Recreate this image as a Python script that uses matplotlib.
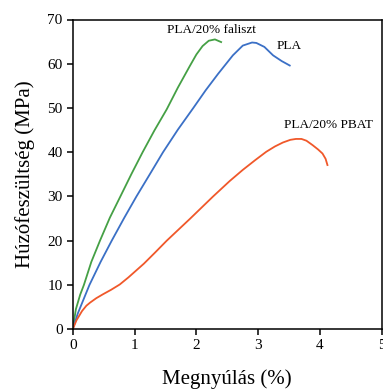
import matplotlib
matplotlib.use('Agg')
import matplotlib.pyplot as plt

plt.rcParams['font.family'] = 'Liberation Serif'

# PLA/20% faliszt
fal_x = [0, 0.05, 0.12, 0.18, 0.30, 0.44, 0.60, 0.77, 0.95, 1.13, 1.32, 1.52, 1.70, 1.89,
         2.00, 2.10, 2.20, 2.30, 2.40]
fal_y = [0, 4.5, 7.8, 10, 15.2, 20, 25.2, 30, 35.1, 40, 44.9, 49.7, 54.6, 59.4,
         62.1, 64.0, 65.2, 65.5, 64.9]

# PLA
pla_x = [0, 0.08, 0.27, 0.45, 0.63, 0.83, 1.03, 1.25, 1.46, 1.70, 1.95, 2.15, 2.35, 2.59,
         2.75, 2.90, 2.97, 3.10, 3.24, 3.38, 3.51]
pla_y = [0, 3.5, 10, 15.2, 20, 25.1, 30, 35.1, 40, 45.1, 50, 54, 57.7, 61.9,
         64.1, 64.8, 64.7, 63.8, 61.9, 60.6, 59.6]

# PLA/20% PBAT
pbat_x = [0, 0.06, 0.15, 0.22, 0.28, 0.38, 0.49, 0.62, 0.76, 0.90, 1.15, 1.33, 1.52, 1.90,
          2.27, 2.54, 2.75, 2.95, 3.13, 3.27, 3.40, 3.52, 3.61, 3.70, 3.78, 3.88, 3.97,
          4.04, 4.09, 4.12]
pbat_y = [0, 2, 4.1, 5.3, 6, 7, 7.9, 8.9, 10.1, 11.7, 14.8, 17.3, 20, 25,
          30, 33.5, 36, 38.2, 40.1, 41.3, 42.2, 42.8, 43.0, 43.0, 42.6, 41.6, 40.6,
          39.7, 38.5, 37.1]

fig = plt.figure(figsize=(3.83, 3.90), dpi=100)
ax = fig.add_axes([0.19, 0.156, 0.807, 0.794])

ax.plot(fal_x, fal_y, color='#45a045', lw=1.3)
ax.plot(pla_x, pla_y, color='#3b70c6', lw=1.3)
ax.plot(pbat_x, pbat_y, color='#f0582a', lw=1.3)

ax.text(1.52, 67.6, 'PLA/20% faliszt', fontsize=9.5, va='center')
ax.text(3.29, 64.1, 'PLA', fontsize=9.5, va='center')
ax.text(3.42, 46.2, 'PLA/20% PBAT', fontsize=9.5, va='center')

ax.set_xlim(0, 5)
ax.set_ylim(0, 70)
ax.set_xticks([0, 1, 2, 3, 4, 5])
ax.set_yticks(range(0, 71, 10))
ax.tick_params(direction='out', length=4.3, width=1.1, labelsize=11, pad=3)
for s in ax.spines.values():
    s.set_linewidth(1.1)

ax.set_xlabel('Megnyúlás (%)', fontsize=15, labelpad=12)
ax.set_ylabel('Húzófeszültség (MPa)', fontsize=15, labelpad=9)

fig.savefig('out.png', dpi=100)
